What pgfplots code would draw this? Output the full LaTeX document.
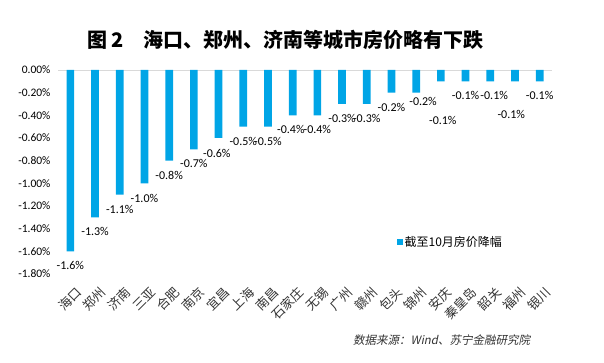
\documentclass[border=0pt]{standalone}
\usepackage{pgfplots}
\pgfplotsset{compat=1.18}
\usepackage{pgfplotstable}
\usepackage{fontspec}
\setmainfont{Carlito}
\newfontfamily\cjk{Noto Sans CJK SC}
\newfontfamily\cjkit[FakeSlant=0.2]{Noto Sans CJK SC}
\definecolor{barblue}{HTML}{00A5E6}
\definecolor{zeroline}{HTML}{D9D9D9}

\pgfplotstableread{
x v
0 -1.6
1 -1.3
2 -1.1
3 -1.0
4 -0.8
5 -0.7
6 -0.6
7 -0.5
8 -0.5
9 -0.4
10 -0.4
11 -0.3
12 -0.3
13 -0.2
14 -0.2
15 -0.1
16 -0.1
17 -0.1
18 -0.1
19 -0.1
}\bardata

\pgfplotstableread{
x y v
0 -1.721 -1.6
1 -1.421 -1.3
2 -1.227 -1.1
3 -1.130 -1.0
4 -0.927 -0.8
5 -0.821 -0.7
5.93 -0.733 -0.6
7 -0.627 -0.5
8 -0.627 -0.5
8.93 -0.521 -0.4
10 -0.521 -0.4
11 -0.424 -0.3
12 -0.424 -0.3
13 -0.327 -0.2
14.28 -0.282 -0.2
15.08 -0.441 -0.1
16 -0.221 -0.1
17.16 -0.221 -0.1
17.85 -0.388 -0.1
19 -0.221 -0.1
}\labeldata

\begin{document}
\begin{tikzpicture}
\path[use as bounding box] (0,0) rectangle (604pt,363pt);
\begin{axis}[
  at={(58pt,89pt)}, anchor=south west,
  scale only axis, width=494pt, height=204pt,
  xmin=-0.5, xmax=19.5, ymin=-1.8, ymax=0,
  /pgf/number format/assume math mode=true,
  axis line style={draw=none},
  tick style={draw=none},
  ytick={-1.8,-1.6,-1.4,-1.2,-1,-0.8,-0.6,-0.4,-0.2,0},
  yticklabel={\pgfmathprintnumber[fixed,fixed zerofill,precision=2]{\tick}\%},
  yticklabel style={font=\fontsize{11.5}{11.5}\selectfont, xshift=-4pt},
  xtick={0,...,19},
  xticklabels={海口,郑州,济南,三亚,合肥,南京,宜昌,上海,南昌,石家庄,无锡,广州,赣州,包头,锦州,安庆,秦皇岛,韶关,福州,银川},
  xticklabel style={font=\cjk\fontsize{12.8}{12.8}\selectfont, text=black!80, rotate=45, anchor=east, yshift=-17pt, xshift=-5pt, inner sep=0pt},
  legend style={at={(0.686,0.157)}, anchor=west, draw=none, fill=none, inner sep=0pt,
    font=\cjk\fontsize{12}{12}\selectfont},
  legend image code/.code={\fill[barblue] (0pt,-2.75pt) rectangle (5.5pt,2.75pt);},
  clip=false,
]
\draw[zeroline, line width=0.8pt] (axis cs:-0.5,0) -- (axis cs:19.5,0);
\addplot[ybar, bar width=7.7pt, fill=barblue, draw=none] table[x=x, y=v] {\bardata};
\addlegendentry{截至10月房价降幅}
\addplot[forget plot, only marks, mark=*, mark size=0pt, mark options={draw=none, fill=none},
  point meta=explicit,
  nodes near coords={\pgfmathprintnumber[fixed,fixed zerofill,precision=1]{\pgfplotspointmeta}\%},
  every node near coord/.append style={anchor=center, font=\fontsize{12}{12}\selectfont, text=black, inner sep=0pt}]
  table[x=x, y=y, meta=v] {\labeldata};
\end{axis}
\node[font=\cjk\bfseries\fontsize{20}{20}\selectfont, anchor=west, inner sep=0pt] at (87pt,323pt) {图\hspace{0.2em}2\hspace{1em}海口、郑州、济南等城市房价略有下跌};
\node[font=\cjkit\fontsize{11.5}{11.5}\selectfont, text=black!80, anchor=west, inner sep=0pt] at (353pt,23pt) {数据来源：Wind、苏宁金融研究院};
\end{tikzpicture}
\end{document}
